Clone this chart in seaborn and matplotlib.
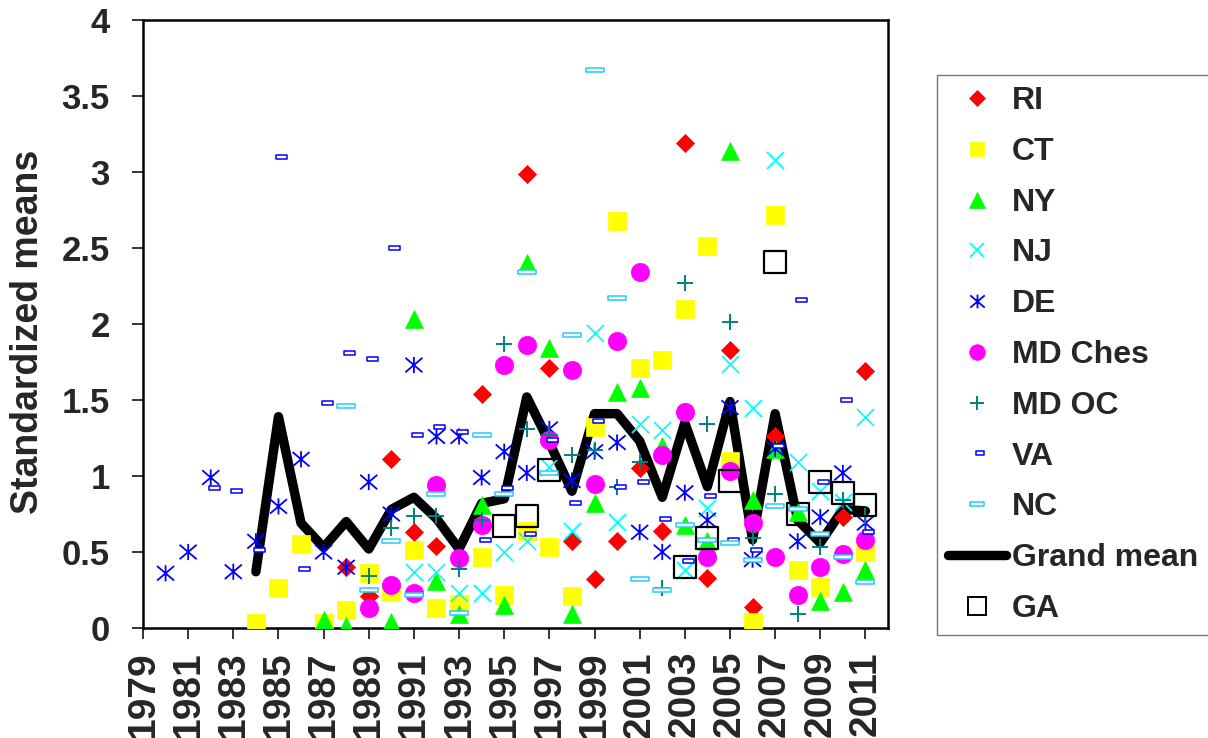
import numpy as np
import pandas as pd
import matplotlib
matplotlib.use("Agg")
import matplotlib.pyplot as plt
import seaborn as sns
from matplotlib.path import Path
from matplotlib.lines import Line2D

NA = np.nan
years = list(range(1980, 2012))

# values per year 1980..2011
ri = [NA, NA, NA, NA, NA, NA, NA, NA,
      0.40, 0.21, 1.11, 0.63, 0.54, NA, 1.54, NA, 2.99, 1.71, 0.57, 0.32,
      0.57, 1.05, 0.64, 3.19, 0.33, 1.83, 0.14, 1.26, NA, NA, 0.73, 1.69]
ct = [NA, NA, NA, NA,
      0.03, 0.26, 0.55, 0.03, 0.12, 0.36, 0.24, 0.51, 0.13, 0.16, 0.47, 0.22,
      0.64, 0.53, 0.21, 1.32, 2.68, 1.71, 1.76, 2.10, 2.51, 1.10, 0.04, 2.72,
      0.38, 0.27, NA, 0.50]
ny = [NA, NA, NA, NA, NA, NA, NA,
      0.05, 0.01, NA, 0.04, 2.03, 0.31, 0.09, 0.81, 0.15, 2.40, 1.84, 0.09,
      0.82, 1.55, 1.58, 1.20, 0.68, 0.57, 3.14, 0.84, 1.18, 0.76, 0.18, 0.24, 0.38]
nj = [NA, NA, NA, NA, NA, NA, NA, NA, NA, NA, NA,
      0.37, 0.37, 0.23, 0.23, 0.50, 0.57, 1.06, 0.64, 1.94, 0.70, 1.34, 1.30,
      0.38, 0.79, 1.74, 1.45, 3.08, 1.09, 0.90, 0.83, 1.39]
de = [0.36, 0.50, 0.99, 0.37, 0.57, 0.80, 1.11, 0.50, 0.40, 0.96, 0.75, 1.73,
      1.26, 1.26, 0.99, 1.16, 1.02, 1.31, 0.97, 1.16, 1.22, 0.63, 0.50, 0.89,
      0.71, 1.45, 0.45, 1.18, 0.57, 0.73, 1.02, 0.69]
md_ches = [NA, NA, NA, NA, NA, NA, NA, NA, NA,
           0.13, 0.28, 0.23, 0.94, 0.46, 0.68, 1.73, 1.86, 1.24, 1.70, 0.95,
           1.89, 2.34, 1.14, 1.42, 0.47, 1.03, 0.69, 0.47, 0.22, 0.40, 0.49, 0.58]
md_oc = [NA, NA, NA, NA, NA, NA, NA, NA, NA,
         0.34, 0.66, 0.74, 0.74, 0.39, 0.71, 1.87, 1.31, 1.27, 1.14, 1.17,
         0.93, 1.09, 0.26, 2.27, 1.34, 2.01, 0.59, 0.88, 0.09, 0.53, 0.84, 0.74]
va = [NA, NA,
      0.92, 0.90, 0.51, 3.10, 0.39, 1.48, 1.81, 1.77, 2.50, 1.27, 1.32, 1.29,
      0.58, 0.92, 0.62, 1.24, 0.82, 1.36, 0.93, 0.96, 0.72, 0.44, 0.87, 0.58,
      0.51, 1.20, 2.16, 0.96, 1.50, 0.63]
nc = [NA, NA, NA, NA, NA, NA, NA, NA,
      1.46, 0.25, 0.57, 0.22, 0.88, 0.10, 1.27, 0.88, 2.34, 1.02, 1.93, 3.67,
      2.17, 0.32, 0.25, 0.68, 0.58, 0.56, 0.45, 0.80, 0.78, 0.62, 0.47, 0.30]
grand_mean = [NA, NA, NA, NA,
              0.37, 1.39, 0.69, 0.53, 0.70, 0.52, 0.78, 0.86, 0.72, 0.52, 0.82,
              0.85, 1.52, 1.22, 0.90, 1.41, 1.41, 1.23, 0.86, 1.35, 0.93, 1.49,
              0.58, 1.41, 0.71, 0.56, 0.78, 0.77]
ga = [NA] * 15 + [0.67, 0.74, 1.04] + [NA] * 5 + [0.40, 0.59, 0.97, NA, 2.41,
                                                 0.75, 0.96, 0.89, 0.81]

series_names = ["RI", "CT", "NY", "NJ", "DE", "MD Ches", "MD OC", "VA", "NC"]
series_vals = [ri, ct, ny, nj, de, md_ches, md_oc, va, nc]

x_ticks = list(range(1979, 2012, 2))
y_ticks = [0, 0.5, 1, 1.5, 2, 2.5, 3, 3.5, 4]
y_tick_labels = ["0", "0.5", "1", "1.5", "2", "2.5", "3", "3.5", "4"]

# ---- marker paths ----
ast = Path([(0, -0.95), (0, 0.95), (-1, -0.85), (1, 0.85), (-1, 0.85), (1, -0.85)],
           [Path.MOVETO, Path.LINETO, Path.MOVETO, Path.LINETO, Path.MOVETO, Path.LINETO])
va_rect = Path([(-0.2, -0.28), (1.0, -0.28), (1.0, 0.28), (-0.2, 0.28), (-0.2, -0.28)],
               [Path.MOVETO, Path.LINETO, Path.LINETO, Path.LINETO, Path.CLOSEPOLY])
nc_rect = Path([(-1, -0.26), (1, -0.26), (1, 0.26), (-1, 0.26), (-1, -0.26)],
               [Path.MOVETO, Path.LINETO, Path.LINETO, Path.LINETO, Path.CLOSEPOLY])

styles = {
    "RI": dict(marker="D", s=85, fc="#FF0000", ec="#FF0000", lw=0.5),
    "CT": dict(marker="s", s=155, fc="#FFFF00", ec="#FFFF00", lw=0.5),
    "NY": dict(marker="^", s=165, fc="#00FF00", ec="#00FF00", lw=0.5),
    "NJ": dict(marker="x", s=150, fc="#00FFFF", ec="#00FFFF", lw=1.3),
    "DE": dict(marker=ast, s=150, fc="none", ec="#0000FF", lw=1.3),
    "MD Ches": dict(marker="o", s=175, fc="#FF00FF", ec="#FF00FF", lw=0.5),
    "MD OC": dict(marker="+", s=140, fc="#008080", ec="#008080", lw=1.4),
    "VA": dict(marker=va_rect, s=160, fc="white", ec="#0000FF", lw=1.1),
    "NC": dict(marker=nc_rect, s=150, fc="white", ec="#22CCFF", lw=1.1),
}

sns.set_style("white")
plt.rcParams["font.family"] = ["Liberation Sans", "DejaVu Sans"]
plt.rcParams["font.weight"] = "bold"

fig = plt.figure(figsize=(12.08, 7.38), dpi=100)
ax = fig.add_axes([143 / 1208, 1 - 628 / 738, (888 - 143) / 1208, (628 - 20) / 738])

# grand mean line (below markers)
gm_df = pd.DataFrame({"year": years, "value": grand_mean}).dropna()
sns.lineplot(data=gm_df, x="year", y="value", color="black", linewidth=6.8,
             ax=ax, zorder=2, legend=False, solid_joinstyle="round",
             solid_capstyle="round")

handles = []
for name, vals in zip(series_names, series_vals):
    st = styles[name]
    d = pd.DataFrame({"year": years, "value": vals}).dropna()
    kw = dict(marker=st["marker"], s=st["s"], linewidth=st["lw"], zorder=3)
    if st["marker"] in ("x", "+"):
        kw["color"] = st["ec"]
    else:
        kw["facecolor"] = st["fc"]
        kw["edgecolor"] = st["ec"]
    sns.scatterplot(data=d, x="year", y="value", ax=ax, legend=False, **kw)
    handles.append(Line2D([], [], linestyle="none", marker=st["marker"],
                          markersize=np.sqrt(st["s"]) * 0.85,
                          markerfacecolor=st["fc"], markeredgecolor=st["ec"],
                          markeredgewidth=st["lw"], label=name))

ga_df = pd.DataFrame({"year": years, "value": ga}).dropna()
sns.scatterplot(data=ga_df, x="year", y="value", ax=ax, legend=False, marker="s",
                s=250, facecolor="none", edgecolor="black", linewidth=1.6, zorder=4)

handles.append(Line2D([], [], color="black", linewidth=6.8, solid_capstyle="round",
                      label="Grand mean"))
handles.append(Line2D([], [], linestyle="none", marker="s", markersize=13,
                      markerfacecolor="none", markeredgecolor="black",
                      markeredgewidth=1.4, label="GA"))

ax.set_xlim(1979, 2012)
ax.set_ylim(0, 4)
ax.set_xticks(x_ticks)
ax.set_xticklabels([str(y) for y in x_ticks], rotation=90, fontsize=28,
                   fontweight="bold", va="top")
ax.set_yticks(y_ticks)
ax.set_yticklabels(y_tick_labels, fontsize=25, fontweight="bold")
ax.set_xlabel("")
ax.set_ylabel("Standardized means", fontsize=27, fontweight="bold")
ax.yaxis.set_label_coords((46 - 143) / 745, 0.487)
ax.tick_params(axis="both", direction="out", length=8, width=1.1, color="black")
ax.tick_params(axis="x", bottom=True, pad=8.5)
ax.tick_params(axis="y", left=True, pad=16)
for sp in ax.spines.values():
    sp.set_visible(True)
    sp.set_color("black")
    sp.set_linewidth(1.8)
ax.grid(False)

leg = fig.legend(handles=handles, loc="upper left",
                 bbox_to_anchor=(937 / 1208, 1 - 75 / 738),
                 bbox_transform=fig.transFigure, frameon=True, fancybox=False,
                 edgecolor="#555555", fontsize=23, labelspacing=0.65,
                 handlelength=1.8, handletextpad=0.2, borderpad=0.35,
                 borderaxespad=0)
leg.get_frame().set_linewidth(1.0)
for t in leg.get_texts():
    t.set_fontweight("bold")

fig.savefig("out.png", dpi=100)
